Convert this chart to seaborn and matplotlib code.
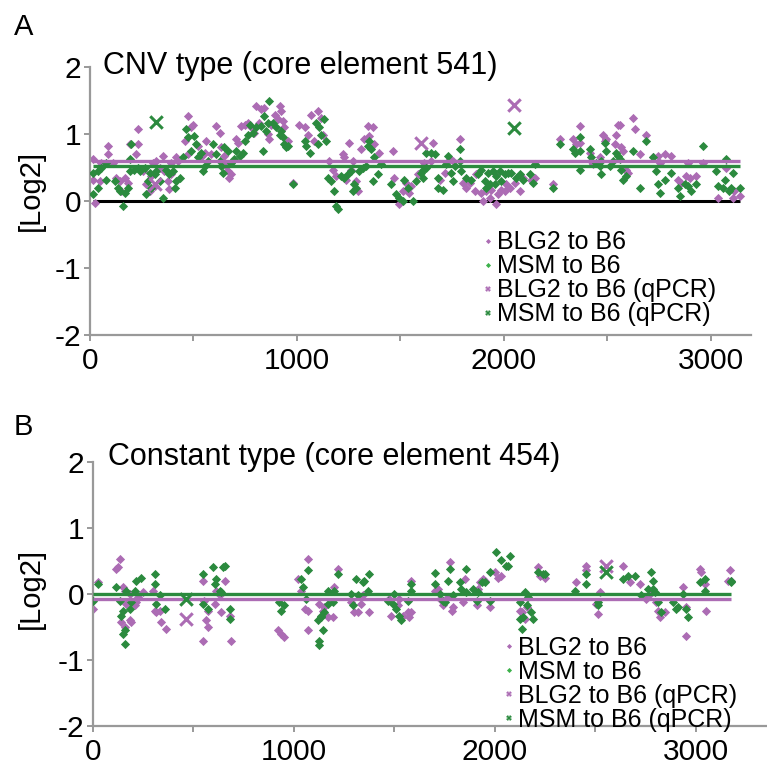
import numpy as np
import pandas as pd
import seaborn as sns
import matplotlib.pyplot as plt
from matplotlib.lines import Line2D

# ---------------- data ----------------
# Panel A: CNV type (core element 541)
a_blg2_x = [14, 14, 22, 54, 87, 87, 46, 111, 127, 143, 151, 167, 183, 191, 232, 232, 223,
            256, 272, 288, 304, 320, 312, 336, 352, 296, 360, 376, 393, 393, 417, 425, 384,
            473, 457, 473, 489, 497, 521, 537, 554, 562, 586, 610, 626, 634, 642, 658, 666,
            674, 682, 650, 706, 715, 731, 747, 763, 779, 795, 819, 827, 843, 803, 859, 867,
            876, 892, 908, 916, 924, 932, 940, 956, 948, 980, 1012, 1037, 1053, 1069, 1101,
            1117, 1125, 1085, 1157, 1173, 1189, 1222, 1230, 1254, 1262, 1270, 1238, 1286,
            1310, 1326, 1342, 1350, 1367, 1375, 1399, 1294, 1463, 1471, 1495, 1511, 1528,
            1544, 1552, 1584, 1616, 1658, 1691, 1715, 1739, 1755, 1787, 1803, 1650, 1819,
            1836, 1860, 1892, 1900, 1916, 1932, 1940, 1964, 1972, 1988, 2005, 2013, 2029,
            2053, 2077, 2093, 2133, 2149, 1868, 1964, 2238, 2270, 2335, 2351, 2367, 2367,
            2415, 2431, 2463, 2480, 2488, 2496, 2536, 2544, 2552, 2560, 2568, 2576, 2592,
            2600, 2624, 2632, 2657, 2423, 2689, 2721, 2745, 2753, 2777, 2810, 2842, 2858,
            2882, 2898, 2930, 2890, 2963, 3035, 3075, 3107, 3140, 3115]
a_blg2_y = [0.62, 0.32, -0.03, 0.57, 0.82, 0.70, 0.30, 0.57, 0.35, 0.30, 0.15, 0.35, 0.27,
            0.85, 1.07, 0.85, 0.70, 0.45, 0.25, 0.15, 0.57, 0.60, 0.22, 0.50, 0.67, 0.37,
            0.45, 0.30, 0.40, 0.57, 0.65, 0.60, 0.18, 1.27, 0.90, 0.70, 1.10, 1.14, 0.82,
            0.65, 0.72, 0.90, 0.70, 1.12, 1.02, 0.80, 0.57, 0.52, 0.45, 0.35, 0.40, 0.67,
            0.92, 0.87, 1.12, 1.14, 1.17, 1.10, 1.02, 1.17, 1.37, 1.39, 1.42, 1.00, 0.92,
            1.14, 1.29, 1.22, 1.42, 1.34, 1.19, 1.10, 0.90, 0.82, 0.27, 1.14, 1.10, 0.99,
            1.29, 1.34, 1.24, 0.99, 0.90, 0.60, 0.47, 0.37, 0.70, 0.65, 0.87, 0.47, 0.60,
            0.32, 0.30, 0.77, 0.92, 1.12, 0.97, 1.10, 0.85, 0.72, 0.15, 0.75, 0.35, -0.05,
            0.15, 0.27, 0.12, 0.22, 0.40, 0.57, 0.87, 0.32, 0.42, 0.62, 0.60, 0.92, 0.27,
            0.60, 0.20, 0.27, 0.15, 0.12, 0.00, 0.15, 0.05, 0.17, -0.05, 0.10, 0.17, 0.15,
            0.25, 0.20, 0.27, 0.15, 0.35, 0.32, 0.35, 0.40, 0.40, 0.25, 0.92, 0.92, 0.85,
            1.12, 0.87, 0.72, 0.55, 0.65, 0.99, 0.90, 0.92, 0.85, 0.99, 1.14, 1.14, 0.80,
            0.75, 0.47, 0.42, 1.24, 1.07, 0.70, 0.60, 0.99, 0.65, 0.67, 0.57, 0.70, 0.67,
            0.32, 0.27, 0.37, 0.35, 0.37, 0.57, 0.57, 0.05, 0.50, 0.05, 0.08, 0.15]
a_msm_x = [14, 14, 38, 54, 79, 79, 38, 119, 135, 143, 159, 167, 183, 191, 199, 215, 232,
           240, 191, 264, 280, 288, 296, 312, 320, 336, 352, 272, 368, 384, 401, 409, 417,
           433, 449, 465, 473, 489, 505, 513, 521, 545, 554, 570, 537, 594, 610, 626, 634,
           642, 650, 666, 682, 698, 706, 723, 739, 747, 763, 771, 787, 803, 827, 835, 843,
           859, 851, 867, 884, 900, 916, 924, 932, 940, 956, 948, 980, 1037, 1045, 1061,
           1093, 1109, 1117, 1133, 1141, 1101, 1149, 1165, 1181, 1189, 1198, 1214, 1230,
           1246, 1262, 1278, 1270, 1286, 1302, 1318, 1342, 1350, 1359, 1367, 1375, 1391,
           1407, 1334, 1455, 1479, 1495, 1511, 1520, 1536, 1560, 1576, 1600, 1608, 1624,
           1610, 1626, 1650, 1666, 1683, 1683, 1707, 1723, 1731, 1747, 1755, 1763, 1787,
           1787, 1795, 1819, 1844, 1876, 1892, 1908, 1924, 1932, 1948, 1964, 1980, 1988,
           2005, 2021, 2037, 2061, 2077, 2093, 2125, 2141, 2149, 1916, 1956, 2238, 2270,
           2335, 2343, 2367, 2367, 2367, 2415, 2423, 2447, 2463, 2471, 2488, 2496, 2512,
           2528, 2544, 2552, 2560, 2568, 2576, 2592, 2624, 2657, 2471, 2689, 2721, 2737,
           2745, 2753, 2777, 2810, 2842, 2850, 2874, 2890, 2906, 2930, 2963, 3027, 3035,
           3059, 3075, 3067, 3091, 3099, 3107, 3140]
a_msm_y = [0.42, 0.10, 0.20, 0.50, 0.57, 0.32, 0.45, 0.30, 0.20, 0.15, -0.07, 0.12, 0.20,
           0.62, 0.85, 0.47, 0.50, 0.45, 0.45, 0.50, 0.30, 0.42, 0.20, 0.40, 0.45, 0.30,
           0.05, 0.10, 0.47, 0.40, 0.45, 0.20, 0.30, 0.35, 0.65, 1.07, 0.95, 0.75, 0.97,
           0.85, 0.65, 0.45, 0.52, 0.60, 0.72, 0.85, 0.70, 0.60, 0.52, 0.42, 0.80, 0.75,
           0.57, 0.62, 0.75, 0.67, 0.72, 0.90, 0.99, 1.14, 1.02, 1.10, 1.12, 0.75, 1.27,
           1.17, 1.05, 1.49, 1.17, 1.10, 0.99, 1.04, 0.95, 0.85, 0.82, 0.80, 0.25, 0.90,
           0.82, 0.72, 1.17, 1.10, 0.99, 1.22, 0.90, 0.85, 0.35, 0.30, 0.15, -0.07, -0.12,
           0.37, 0.35, 0.40, 0.45, 0.25, 0.15, 0.20, 0.45, 0.50, 0.82, 0.90, 0.77, 0.30,
           0.65, 0.40, 0.55, 0.52, 0.25, 0.10, 0.05, 0.00, 0.32, 0.20, 0.00, 0.30, 0.42,
           0.35, 0.50, 0.47, 0.72, 0.72, 0.70, 0.35, 0.20, 0.17, 0.55, 0.67, 0.42, 0.30,
           0.52, 0.77, 0.60, 0.45, 0.35, 0.32, 0.40, 0.47, 0.30, 0.42, 0.25, 0.45, 0.37,
           0.45, 0.30, 0.40, 0.42, 0.42, 0.35, 0.40, 0.32, 0.40, 0.27, 0.55, 0.20, 0.25,
           0.20, 0.85, 0.77, 0.72, 0.95, 0.75, 0.47, 0.77, 0.65, 0.57, 0.52, 0.40, 0.87,
           0.75, 0.52, 0.60, 0.72, 0.67, 0.62, 0.47, 0.32, 0.37, 0.75, 0.20, 0.60, 0.90,
           0.65, 0.45, 0.25, 0.12, 0.32, 0.42, 0.20, 0.08, 0.25, 0.22, 0.15, 0.25, 0.82,
           0.45, 0.22, 0.20, 0.62, 0.32, 0.15, 0.20, 0.42, 0.20]
a_blg2_qpcr_x = [314, 1600, 2050]
a_blg2_qpcr_y = [0.25, 0.86, 1.44]
a_msm_qpcr_x = [320, 2050]
a_msm_qpcr_y = [1.18, 1.085]
a_blg2_mean = 0.60
a_msm_mean = 0.52

# Panel B: Constant type (core element 454)
b_blg2_x = [25, 0, 133, 116, 124, 149, 157, 182, 166, 141, 157, 182, 191, 207, 215, 224,
            249, 298, 307, 315, 332, 340, 365, 547, 555, 572, 564, 572, 547, 605, 613, 638,
            655, 680, 688, 630, 920, 937, 953, 1020, 1036, 1053, 1069, 1069, 1069, 1127,
            1144, 1152, 1169, 1194, 1202, 1219, 1285, 1301, 1318, 1335, 1343, 1376, 1484,
            1517, 1525, 1542, 1567, 1575, 1583, 1583, 1475, 1702, 1718, 1726, 1743, 1768,
            1776, 1785, 1793, 1843, 1851, 1909, 1917, 1925, 1942, 1950, 1975, 2000, 2017,
            2033, 2124, 2133, 2149, 2158, 2216, 2224, 2249, 2406, 2456, 2456, 2506, 2514,
            2522, 2638, 2671, 2721, 2754, 2771, 2804, 2812, 2821, 2846, 2937, 2954, 2954,
            3020, 3028, 3045, 3053, 3169, 3177, 3161]
b_blg2_y = [0.18, -0.23, 0.53, 0.38, 0.41, 0.10, 0.05, 0.00, -0.15, -0.43, -0.50, -0.40,
            -0.43, -0.17, -0.12, -0.05, 0.03, 0.05, -0.25, -0.28, -0.25, -0.43, -0.53,
            0.20, -0.10, -0.25, -0.40, -0.50, -0.71, -0.15, 0.05, -0.28, 0.20, -0.33,
            -0.71, -0.02, -0.55, -0.60, -0.65, 0.23, 0.05, -0.23, -0.25, 0.53, -0.55,
            -0.15, -0.25, -0.20, -0.35, -0.35, 0.10, 0.38, -0.12, -0.28, -0.28, -0.15,
            -0.02, -0.28, -0.33, -0.17, -0.07, -0.33, -0.28, -0.35, -0.28, 0.20, -0.07,
            0.05, 0.08, -0.07, -0.17, -0.05, 0.48, -0.25, -0.20, -0.12, 0.23, -0.17, 0.08,
            0.18, 0.23, 0.20, -0.20, 0.33, 0.25, 0.28, -0.25, -0.28, -0.38, -0.20, 0.41,
            0.28, 0.25, 0.18, 0.43, 0.36, -0.15, -0.30, 0.03, 0.43, 0.18, 0.15, -0.07,
            0.00, -0.12, -0.25, -0.35, -0.28, 0.10, -0.63, -0.20, 0.38, 0.33, 0.15, -0.25,
            0.36, 0.20, 0.20]
b_msm_x = [25, 0, 116, 133, 141, 149, 157, 149, 157, 166, 182, 191, 207, 215, 240, 307,
           307, 315, 332, 356, 547, 547, 572, 597, 605, 613, 630, 647, 655, 638, 680, 680,
           928, 937, 953, 1036, 1044, 1061, 1069, 1119, 1136, 1144, 1127, 1127, 1136, 1152,
           1169, 1169, 1194, 1202, 1219, 1285, 1293, 1310, 1318, 1343, 1351, 1368, 1376,
           1467, 1492, 1500, 1509, 1525, 1534, 1567, 1583, 1583, 1702, 1702, 1726, 1743,
           1751, 1768, 1776, 1793, 1826, 1834, 1859, 1859, 1892, 1909, 1917, 1934, 1950,
           1975, 1975, 2008, 2033, 2058, 2066, 2075, 2124, 2141, 2149, 2158, 2166, 2124,
           2133, 2182, 2191, 2216, 2240, 2249, 2398, 2456, 2456, 2514, 2514, 2638, 2663,
           2696, 2730, 2763, 2779, 2788, 2788, 2796, 2812, 2829, 2887, 2904, 2912, 2937,
           2954, 2962, 3020, 3045, 3045, 3177, 3177]
b_msm_y = [0.15, -0.10, 0.10, -0.10, -0.33, -0.25, -0.55, -0.60, -0.76, 0.05, -0.23,
           -0.12, 0.05, 0.20, 0.25, 0.30, 0.15, -0.15, -0.02, -0.23, 0.30, -0.15, -0.23,
           0.41, 0.15, 0.23, 0.05, 0.41, 0.43, 0.03, -0.23, -0.38, -0.12, -0.25, -0.17,
           0.23, 0.10, -0.07, 0.36, -0.40, -0.35, -0.55, -0.71, -0.78, -0.33, -0.28, 0.05,
           -0.15, -0.12, 0.05, 0.30, 0.00, -0.17, 0.23, -0.02, 0.18, 0.20, 0.05, 0.30,
           -0.10, -0.15, 0.00, -0.23, -0.33, -0.40, -0.10, 0.05, 0.15, 0.32, 0.15, 0.00,
           -0.10, -0.12, 0.20, 0.38, -0.02, 0.18, 0.08, 0.38, 0.03, 0.08, -0.10, 0.03,
           0.18, 0.18, -0.10, 0.33, 0.63, 0.51, 0.43, 0.43, 0.58, -0.12, -0.35, 0.03,
           -0.17, -0.05, -0.38, -0.53, -0.28, -0.38, 0.33, 0.30, 0.30, 0.05, 0.15, 0.30,
           -0.12, -0.17, 0.23, 0.28, 0.28, -0.02, 0.08, 0.33, 0.20, 0.08, 0.03, -0.12,
           -0.28, -0.12, -0.23, -0.20, 0.00, -0.23, -0.35, 0.18, 0.23, 0.05, 0.20, 0.18]
b_blg2_qpcr_x = [464, 2556]
b_blg2_qpcr_y = [-0.38, 0.43]
b_msm_qpcr_x = [464, 2556]
b_msm_qpcr_y = [-0.07, 0.33]
b_blg2_mean = -0.07
b_msm_mean = 0.0

series_labels = ["BLG2 to B6", "MSM to B6", "BLG2 to B6 (qPCR)", "MSM to B6 (qPCR)"]

PURPLE = "#ac6cb4"
GREEN = "#2b8a3e"
LIGHT_GREEN = "#3cb14a"
AXIS_GRAY = "#999999"

sns.set_style("ticks")
plt.rcParams["font.family"] = ["Liberation Sans", "DejaVu Sans"]
plt.rcParams["axes.unicode_minus"] = False
plt.rcParams["text.color"] = "black"
plt.rcParams["axes.labelcolor"] = "black"

fig = plt.figure(figsize=(7.67, 7.65), dpi=100)
ax_a = fig.add_axes([90 / 767, 1 - 335 / 765, 661 / 767, 268 / 765])
ax_b = fig.add_axes([93 / 767, 1 - 726 / 765, 674 / 767, 264 / 765])


def draw_panel(ax, bx, by, mx, my, bqx, bqy, mqx, mqy, bmean, mmean, xmax, zero_line):
    xs = bx + mx
    x0, x1 = min(xs), max(xs)
    if zero_line:
        ax.hlines(0, x0, x1, color="black", lw=2.2, zorder=1)
    sns.scatterplot(x=bx, y=by, ax=ax, marker="D", s=22, color=PURPLE, linewidth=0, zorder=2)
    sns.scatterplot(x=mx, y=my, ax=ax, marker="D", s=22, color=GREEN, linewidth=0, zorder=3)
    ax.hlines(bmean, x0, x1, color=PURPLE, lw=2.4, zorder=4)
    ax.hlines(mmean, x0, x1, color=GREEN, lw=2.4, zorder=4)
    sns.scatterplot(x=bqx, y=bqy, ax=ax, marker="x", s=80, color=PURPLE, linewidth=2.2, zorder=5)
    sns.scatterplot(x=mqx, y=mqy, ax=ax, marker="x", s=80, color=GREEN, linewidth=2.2, zorder=5)

    ax.set_xlim(0, xmax)
    ax.set_ylim(-2, 2)
    ax.set_xticks([0, 1000, 2000, 3000])
    ax.set_xticks([500, 1500, 2500], minor=True)
    ax.set_yticks([-2, -1, 0, 1, 2])
    sns.despine(ax=ax)
    for side in ["left", "bottom"]:
        ax.spines[side].set_color(AXIS_GRAY)
        ax.spines[side].set_linewidth(1.6)
    ax.tick_params(which="both", direction="out", length=4.5, width=1.4,
                   color=AXIS_GRAY, labelsize=21.5, labelcolor="black")
    ax.tick_params(axis="x", pad=4)
    ax.tick_params(axis="y", pad=2)
    ax.set_ylabel("[Log2]", fontsize=21)
    ax.set_xlabel("")

    handles = [
        Line2D([], [], ls="none", marker="D", ms=2.6, color=PURPLE, mew=0),
        Line2D([], [], ls="none", marker="D", ms=2.6, color=LIGHT_GREEN, mew=0),
        Line2D([], [], ls="none", marker="X", ms=4, color=PURPLE, mew=0),
        Line2D([], [], ls="none", marker="X", ms=4, color=GREEN, mew=0),
    ]
    return handles


h = draw_panel(ax_a, a_blg2_x, a_blg2_y, a_msm_x, a_msm_y, a_blg2_qpcr_x, a_blg2_qpcr_y,
               a_msm_qpcr_x, a_msm_qpcr_y, a_blg2_mean, a_msm_mean, 3195, True)
ax_a.legend(h, series_labels, loc="upper left", bbox_to_anchor=(0.595, 0.39), frameon=False,
            fontsize=18, handlelength=0.4, handletextpad=0.15, labelspacing=0.0,
            borderpad=0, borderaxespad=0)
ax_a.yaxis.set_label_coords(-0.068, 0.54)

h = draw_panel(ax_b, b_blg2_x, b_blg2_y, b_msm_x, b_msm_y, b_blg2_qpcr_x, b_blg2_qpcr_y,
               b_msm_qpcr_x, b_msm_qpcr_y, b_blg2_mean, b_msm_mean, 3355, False)
ax_b.legend(h, series_labels, loc="upper left", bbox_to_anchor=(0.61, 0.34), frameon=False,
            fontsize=18, handlelength=0.4, handletextpad=0.15, labelspacing=0.0,
            borderpad=0, borderaxespad=0)
ax_b.yaxis.set_label_coords(-0.071, 0.52)

fig.text(103 / 767, 1 - 74 / 765, "CNV type (core element 541)", fontsize=22, va="baseline")
fig.text(108 / 767, 1 - 465 / 765, "Constant type (core element 454)", fontsize=22, va="baseline")
fig.text(14 / 767, 1 - 35 / 765, "A", fontsize=21, va="baseline")
fig.text(14 / 767, 1 - 435 / 765, "B", fontsize=21, va="baseline")

fig.savefig("out.png", dpi=100)
